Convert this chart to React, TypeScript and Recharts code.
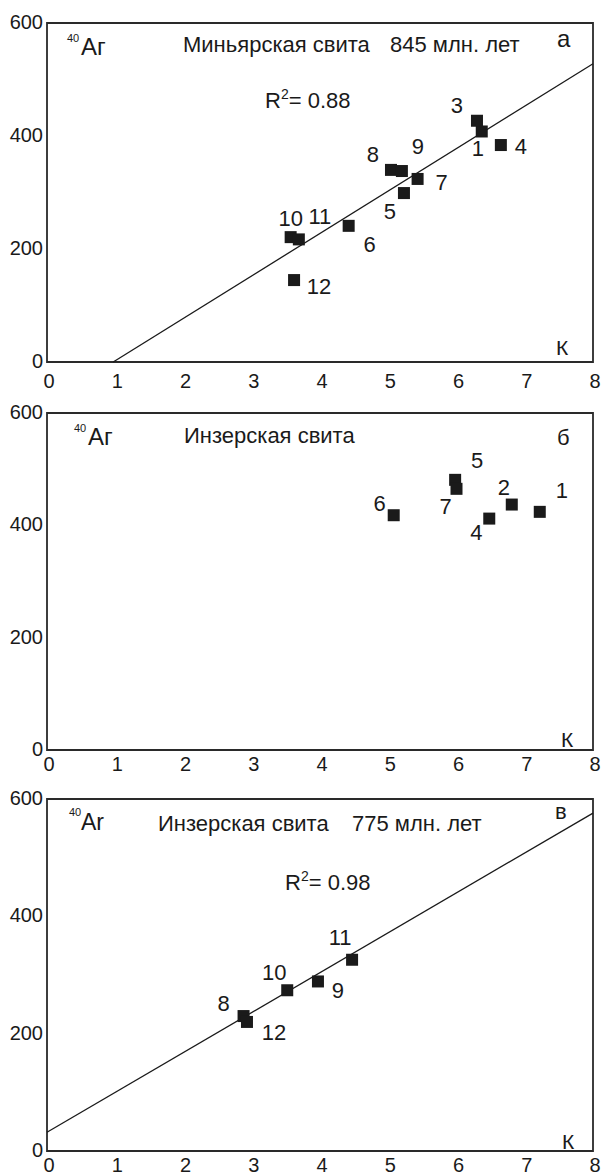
import { ScatterChart, Scatter, XAxis, YAxis, ReferenceLine, ReferenceArea } from "recharts";

const FONT = "'Liberation Sans', Arial, sans-serif";
const INK = "#1a1a1a";

const xTicks = [0, 1, 2, 3, 4, 5, 6, 7, 8];
const yTicks = [0, 200, 400, 600];

// а — Миньярская свита
const ids1 = [1, 3, 4, 5, 6, 7, 8, 9, 10, 11, 12];
const k1 = [6.37, 6.3, 6.65, 5.23, 4.42, 5.43, 5.04, 5.2, 3.57, 3.69, 3.62];
const ar1 = [408, 427, 384, 299, 241, 324, 340, 338, 221, 217, 145];
const fitK1 = [0.97, 8];
const fitAr1 = [0, 528];

// б — Инзерская свита
const ids2 = [1, 2, 4, 5, 6, 7];
const k2 = [7.22, 6.81, 6.48, 5.98, 5.08, 6.0];
const ar2 = [424, 437, 412, 481, 418, 465];

// в — Инзерская свита 775
const ids3 = [8, 9, 10, 11, 12];
const k3 = [2.88, 3.97, 3.52, 4.47, 2.93];
const ar3 = [230, 289, 274, 326, 220];
const fitK3 = [0, 8];
const fitAr3 = [32, 576];

// label placement (px offset from point centre)
const labelPos1: Record<number, [number, number]> = {
  1: [-4, 17], 3: [-20, -16], 4: [20, 1], 5: [-14, 18], 6: [21, 18], 7: [24, 3],
  8: [-18, -16], 9: [16, -25], 10: [0, -19], 11: [21, -23], 12: [25, 6],
};
const labelPos2: Record<number, [number, number]> = {
  1: [22, -22], 2: [-8, -18], 4: [-13, 13], 5: [22, -20], 6: [-14, -12], 7: [-11, 17],
};
const labelPos3: Record<number, [number, number]> = {
  8: [-20, -13], 9: [20, 9], 10: [-13, -18], 11: [-12, -23], 12: [27, 10],
};

const toPoints = (ids: number[], k: number[], ar: number[]) =>
  ids.map((id, i) => ({ id, k: k[i], ar: ar[i] }));

const makeSquare = (pos: Record<number, [number, number]>) => (p: any) => {
  const { cx, cy, payload } = p;
  if (cx == null || cy == null) return <g />;
  const off = pos[payload.id] || [14, -14];
  return (
    <g>
      <rect x={cx - 6} y={cy - 6} width={12} height={12} fill={INK} />
      <text x={cx + off[0]} y={cy + off[1] + 8} textAnchor="middle" fontSize={22} fontFamily={FONT} fill={INK}>
        {payload.id}
      </text>
    </g>
  );
};

const xTick = (below: number) => (p: any) => (
  <text x={p.x + 2} y={p.y + below} textAnchor="middle" fontSize={20} fontFamily={FONT} fill={INK}>
    {p.payload.value}
  </text>
);

const yTick = (p: any) => (
  <text x={p.x - 4} y={p.y + 6} textAnchor="end" fontSize={20} fontFamily={FONT} fill={INK}>
    {p.payload.value}
  </text>
);

type PanelProps = {
  top: number;
  plotH: number;
  height: number;
  tickBelow: number;
  points: { id: number; k: number; ar: number }[];
  labels: Record<number, [number, number]>;
  fitK?: number[];
  fitAr?: number[];
};

function Panel({ top, plotH, height, tickBelow, points, labels, fitK, fitAr }: PanelProps) {
  return (
    <div style={{ position: "absolute", left: 0, top }}>
      <ScatterChart width={605} height={height} margin={{ top: 23, right: 12, left: 0, bottom: 0 }}>
        <XAxis
          type="number"
          dataKey="k"
          domain={[0, 8]}
          ticks={xTicks}
          axisLine={false}
          tickLine={false}
          tickSize={0}
          tickMargin={0}
          height={height - 23 - plotH}
          tick={xTick(tickBelow)}
          allowDataOverflow
        />
        <YAxis
          type="number"
          dataKey="ar"
          domain={[0, 600]}
          ticks={yTicks}
          axisLine={false}
          tickLine={false}
          tickSize={0}
          tickMargin={0}
          width={47}
          tick={yTick}
          allowDataOverflow
        />
        <ReferenceArea x1={0} x2={8} y1={0} y2={600} fill="none" stroke="#2a2a2a" strokeWidth={1.8} />
        {fitK && fitAr && (
          <ReferenceLine
            segment={[
              { x: fitK[0], y: fitAr[0] },
              { x: fitK[1], y: fitAr[1] },
            ]}
            stroke={INK}
            strokeWidth={1.3}
          />
        )}
        <Scatter data={points} shape={makeSquare(labels)} isAnimationActive={false} />
      </ScatterChart>
    </div>
  );
}

const txt = { fontFamily: FONT, fill: INK } as const;

export default function App() {
  return (
    <div style={{ position: "absolute", left: 0, top: 0, width: 605, height: 1176, background: "#fff" }}>
      <Panel top={0} plotH={339} height={400} tickBelow={26} points={toPoints(ids1, k1, ar1)} labels={labelPos1} fitK={fitK1} fitAr={fitAr1} />
      <Panel top={390} plotH={337} height={400} tickBelow={21} points={toPoints(ids2, k2, ar2)} labels={labelPos2} />
      <Panel top={776} plotH={352} height={400} tickBelow={21} points={toPoints(ids3, k3, ar3)} labels={labelPos3} fitK={fitK3} fitAr={fitAr3} />
      <svg width={605} height={1176} style={{ position: "absolute", left: 0, top: 0, pointerEvents: "none" }}>
        {/* а */}
        <text x={67} y={42} fontSize={11} {...txt}>40</text>
        <text x={81} y={55} fontSize={24} {...txt}>Аг</text>
        <text x={183} y={52} fontSize={22} {...txt}>Миньярская свита</text>
        <text x={390} y={52} fontSize={22} {...txt}>845 млн. лет</text>
        <text x={557} y={47} fontSize={24} {...txt}>а</text>
        <text x={265} y={108} fontSize={22} {...txt}>
          R<tspan dy={-9} fontSize={14}>2</tspan>
          <tspan dy={9} fontSize={22}>= 0.88</tspan>
        </text>
        <text x={556} y={355} fontSize={21} {...txt}>К</text>
        {/* б */}
        <text x={74} y={432} fontSize={11} {...txt}>40</text>
        <text x={88} y={445} fontSize={24} {...txt}>Аг</text>
        <text x={184} y={443} fontSize={22} {...txt}>Инзерская свита</text>
        <text x={557} y={445} fontSize={22} {...txt}>б</text>
        <text x={561} y={747} fontSize={21} {...txt}>К</text>
        {/* в */}
        <text x={69} y={816} fontSize={11} {...txt}>40</text>
        <text x={81} y={830} fontSize={23} {...txt}>Ar</text>
        <text x={158} y={831} fontSize={22} {...txt}>Инзерская свита</text>
        <text x={352} y={831} fontSize={22} {...txt}>775 млн. лет</text>
        <text x={555} y={819} fontSize={22} {...txt}>в</text>
        <text x={285} y={890} fontSize={22} {...txt}>
          R<tspan dy={-9} fontSize={14}>2</tspan>
          <tspan dy={9} fontSize={22}>= 0.98</tspan>
        </text>
        <text x={562} y={1149} fontSize={21} {...txt}>К</text>
      </svg>
    </div>
  );
}
